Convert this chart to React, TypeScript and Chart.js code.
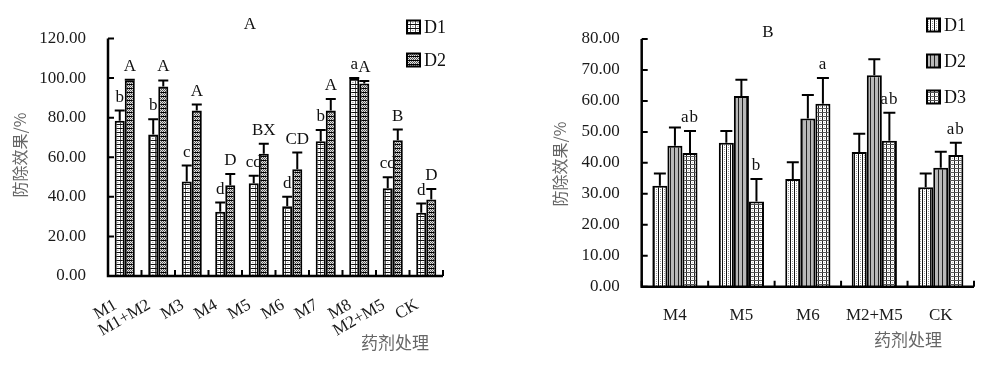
import React, { useEffect, useRef } from "react";
import { Chart, registerables } from "chart.js";

Chart.register(...registerables);

// ---------- data: chart A ----------
const aCategories = ["M1", "M1+M2", "M3", "M4", "M5", "M6", "M7", "M8", "M2+M5", "CK"];
const aD1 = [78.5, 71.5, 47.7, 32.5, 46.9, 35.2, 68.1, 99.8, 44.3, 32.0];
const aD1Err = [5.1, 7.7, 8.1, 4.6, 3.8, 4.9, 5.7, 0.3, 5.6, 4.6];
const aD2 = [98.8, 95.7, 83.6, 45.9, 61.8, 54.0, 83.6, 97.3, 68.6, 38.6];
const aD2Err = [0.4, 3.1, 3.0, 5.7, 5.0, 8.4, 5.8, 1.2, 5.4, 5.4];
const aD1Letters = ["b", "b", "c", "d", "cd", "d", "b", "a", "cd", "d"];
const aD2Letters = ["A", "A", "A", "D", "BX", "CD", "A", "A", "B", "D"];
const aYMax = 120;
const aYStep = 20;

// ---------- data: chart B ----------
const bCategories = ["M4", "M5", "M6", "M2+M5", "CK"];
const bD1 = [32.6, 46.5, 34.8, 43.5, 32.1];
const bD1Err = [4.0, 3.8, 5.4, 5.9, 4.5];
const bD2 = [45.5, 61.6, 54.3, 68.3, 38.4];
const bD2Err = [5.9, 5.2, 7.6, 5.2, 5.2];
const bD3 = [43.2, 27.5, 59.1, 47.1, 42.5];
const bD3Err = [7.1, 7.3, 8.3, 9.1, 4.0];
const bD3Letters = ["ab", "b", "a", "ab", "ab"];
const bYMax = 80;
const bYStep = 10;

const seriesNames = ["D1", "D2", "D3"];
const yTitle = "防除效果/%";
const xTitle = "药剂处理";

const SERIF = "'Liberation Serif', 'Times New Roman', serif";
const CJK = "'Noto Sans CJK SC', 'Noto Sans CJK JP', sans-serif";

function makePattern(kind: string): any {
  const c = document.createElement("canvas");
  let w = 4, h = 4;
  if (kind === "aD1") { w = 5; h = 4; }
  if (kind === "bD2") { w = 4; h = 1; }
  c.width = w; c.height = h;
  const g = c.getContext("2d")!;
  const px = (x: number, y: number, col: string) => { g.fillStyle = col; g.fillRect(x, y, 1, 1); };
  g.fillStyle = "#fff";
  g.fillRect(0, 0, w, h);
  if (kind === "aD1") {
    for (let x = 0; x < w; x++) px(x, 0, "#111");
    for (let y = 1; y < h; y++) px(0, y, "#555");
    px(2, 2, "#aaa");
    px(3, 2, "#ccc");
  } else if (kind === "aD2") {
    for (let y = 0; y < h; y++) for (let x = 0; x < w; x++) px(x, y, (x + y) % 2 === 0 ? "#555" : "#e4e4e4");
    for (let x = 0; x < w; x++) px(x, 0, "#000");
  } else if (kind === "bD1") {
    for (let y = 0; y < h; y++) px(0, y, "#111");
    px(2, 1, "#999");
    px(2, 3, "#999");
  } else if (kind === "bD2") {
    px(0, 0, "#222");
    px(1, 0, "#b8b8b8");
    px(2, 0, "#b8b8b8");
    px(3, 0, "#b8b8b8");
  } else if (kind === "bD3") {
    for (let y = 0; y < h; y++) px(0, y, "#222");
    for (let x = 0; x < w; x++) px(x, 0, "#555");
    px(2, 2, "#bbb");
  }
  return g.createPattern(c, "repeat");
}

const decorPlugin = {
  id: "decor",
  afterDatasetsDraw(chart: any, _args: any, opts: any) {
    const ctx: CanvasRenderingContext2D = chart.ctx;
    const area = chart.chartArea;
    const xs = chart.scales.x;
    const ys = chart.scales.y;
    ctx.save();

    // axes
    ctx.strokeStyle = "#000";
    ctx.lineWidth = 2.5;
    ctx.beginPath();
    ctx.moveTo(area.left, area.top);
    ctx.lineTo(area.left, area.bottom);
    ctx.lineTo(area.right, area.bottom);
    ctx.stroke();
    ctx.lineWidth = 2;
    ctx.beginPath();
    ys.ticks.forEach((t: any) => {
      const y = ys.getPixelForValue(t.value);
      ctx.moveTo(area.left, y);
      ctx.lineTo(area.left + 6, y);
    });
    const n = xs.ticks.length;
    const half = n > 1 ? (xs.getPixelForTick(1) - xs.getPixelForTick(0)) / 2 : 10;
    for (let i = 0; i <= n; i++) {
      const x = i < n ? xs.getPixelForTick(i) - half : xs.getPixelForTick(n - 1) + half;
      ctx.moveTo(x, area.bottom);
      ctx.lineTo(x, area.bottom - 6);
    }
    ctx.stroke();

    // error bars + letters
    chart.data.datasets.forEach((ds: any, di: number) => {
      const meta = chart.getDatasetMeta(di);
      const errs: number[] = ds.errors || [];
      const letters: string[] = ds.letters || [];
      meta.data.forEach((bar: any, i: number) => {
        const v = ds.data[i];
        const e = errs[i] || 0;
        const y1 = ys.getPixelForValue(v);
        const y2 = ys.getPixelForValue(v + e);
        ctx.strokeStyle = "#000";
        ctx.lineWidth = 2;
        ctx.beginPath();
        ctx.moveTo(bar.x, y1);
        ctx.lineTo(bar.x, y2);
        ctx.moveTo(bar.x - opts.cap, y2);
        ctx.lineTo(bar.x + opts.cap, y2);
        ctx.stroke();
        const L = letters[i];
        if (L) {
          ctx.fillStyle = "#111";
          ctx.font = `17px ${SERIF}`;
          ctx.textAlign = "center";
          ctx.textBaseline = "alphabetic";
          (ctx as any).letterSpacing = opts.letterSpacing || "0px";
          ctx.fillText(L, bar.x, y2 - 9);
          (ctx as any).letterSpacing = "0px";
        }
      });
    });

    // title
    ctx.fillStyle = "#111";
    ctx.font = `17px ${SERIF}`;
    ctx.textAlign = "center";
    ctx.textBaseline = "middle";
    ctx.fillText(opts.title, opts.titleX, opts.titleY);

    // legend
    chart.data.datasets.forEach((ds: any, di: number) => {
      const y = opts.legendY[di];
      const x = opts.legendX;
      ctx.fillStyle = ds.backgroundColor;
      ctx.fillRect(x, y - 6.5, 13, 13);
      ctx.strokeStyle = "#000";
      ctx.lineWidth = 2;
      ctx.strokeRect(x, y - 6.5, 13, 13);
      ctx.fillStyle = "#111";
      ctx.font = `18px ${SERIF}`;
      ctx.textAlign = "left";
      ctx.textBaseline = "middle";
      ctx.fillText(ds.label, x + 17, y + 1);
    });

    // axis titles
    ctx.fillStyle = "#666";
    ctx.font = `16px ${CJK}`;
    ctx.textAlign = "center";
    ctx.textBaseline = "middle";
    ctx.save();
    ctx.translate(opts.yTitleX, opts.yTitleY);
    ctx.rotate(-Math.PI / 2);
    ctx.fillText(yTitle, 0, 0);
    ctx.restore();
    ctx.font = `17px ${CJK}`;
    ctx.fillText(xTitle, opts.xTitleX, opts.xTitleY);

    ctx.restore();
  },
};

function ChartBox(props: { left: number; width: number; make: () => any }) {
  const ref = useRef<HTMLCanvasElement | null>(null);
  useEffect(() => {
    if (!ref.current) return;
    const chart = new Chart(ref.current, props.make());
    return () => chart.destroy();
  }, []);
  return (
    <canvas
      ref={ref}
      width={props.width}
      height={368}
      style={{ position: "absolute", left: props.left, top: 0, width: props.width, height: 368 }}
    />
  );
}

function baseScales(yMax: number, yStep: number, yWidth: number, xHeight: number, rot: number, xPad: number, xShift: number) {
  return {
    x: {
      grid: { display: false, drawTicks: false },
      border: { display: false },
      ticks: {
        autoSkip: false,
        maxRotation: rot,
        minRotation: rot,
        padding: xPad,
        labelOffset: xShift,
        color: "#1a1a1a",
        font: { family: SERIF, size: 17 },
      },
      afterFit: (s: any) => { s.height = xHeight; },
    },
    y: {
      min: 0,
      max: yMax,
      grid: { display: false, drawTicks: false },
      border: { display: false },
      ticks: {
        stepSize: yStep,
        padding: 22,
        color: "#1a1a1a",
        font: { family: SERIF, size: 17 },
        callback: (v: any) => Number(v).toFixed(2),
      },
      afterFit: (s: any) => { s.width = yWidth; },
    },
  };
}

function makeA() {
  return {
    type: "bar",
    data: {
      labels: aCategories,
      datasets: [
        { label: seriesNames[0], data: aD1, errors: aD1Err, letters: aD1Letters, backgroundColor: makePattern("aD1") },
        { label: seriesNames[1], data: aD2, errors: aD2Err, letters: aD2Letters, backgroundColor: makePattern("aD2") },
      ].map((d) => ({ ...d, borderColor: "#000", borderWidth: 2, borderSkipped: "start", categoryPercentage: 0.6, barPercentage: 1.0 })),
    },
    options: {
      responsive: false,
      animation: false,
      layout: { padding: { top: 38.5, left: 0, right: 47, bottom: 0 } },
      plugins: {
        legend: { display: false },
        title: { display: false },
        tooltip: { enabled: false },
        decor: {
          cap: 5,
          title: "A",
          titleX: 250,
          titleY: 25,
          legendX: 407,
          legendY: [27, 60],
          yTitleX: 20,
          yTitleY: 155,
          xTitleX: 395,
          xTitleY: 343,
        },
      },
      scales: baseScales(aYMax, aYStep, 108, 92, 30, 19, -9),
    },
    plugins: [decorPlugin],
  };
}

function makeB() {
  return {
    type: "bar",
    data: {
      labels: bCategories,
      datasets: [
        { label: seriesNames[0], data: bD1, errors: bD1Err, letters: [], backgroundColor: makePattern("bD1") },
        { label: seriesNames[1], data: bD2, errors: bD2Err, letters: [], backgroundColor: makePattern("bD2") },
        { label: seriesNames[2], data: bD3, errors: bD3Err, letters: bD3Letters, backgroundColor: makePattern("bD3") },
      ].map((d) => ({ ...d, borderColor: "#000", borderWidth: 2, borderSkipped: "start", categoryPercentage: 0.68, barPercentage: 1.0 })),
    },
    options: {
      responsive: false,
      animation: false,
      layout: { padding: { top: 39, left: 0, right: 9, bottom: 0 } },
      plugins: {
        legend: { display: false },
        title: { display: false },
        tooltip: { enabled: false },
        decor: {
          cap: 6,
          letterSpacing: "1px",
          title: "B",
          titleX: 278,
          titleY: 33,
          legendX: 437,
          legendY: [25, 61, 97],
          yTitleX: 70,
          yTitleY: 164,
          xTitleX: 418,
          xTitleY: 340,
        },
      },
      scales: baseScales(bYMax, bYStep, 151.7, 368 - 286.7, 0, 19, 0),
    },
    plugins: [decorPlugin],
  };
}

export default function App() {
  return (
    <div style={{ position: "absolute", left: 0, top: 0, width: 983, height: 368, background: "#fff", overflow: "hidden" }}>
      <ChartBox left={0} width={490} make={makeA} />
      <ChartBox left={490} width={493} make={makeB} />
    </div>
  );
}
